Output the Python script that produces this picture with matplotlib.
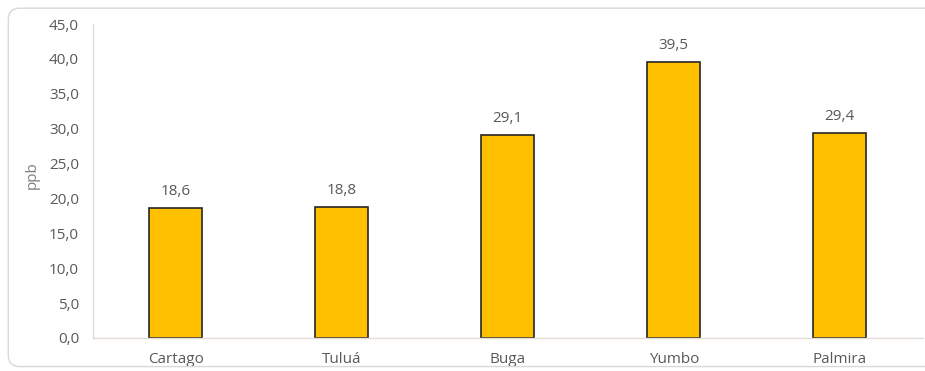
import matplotlib
matplotlib.use("Agg")
import matplotlib.pyplot as plt
from matplotlib.patches import FancyBboxPatch

cities = ["Cartago", "Tuluá", "Buga", "Yumbo", "Palmira"]
ppb = [18.6, 18.8, 29.1, 39.5, 29.4]
yticks = [0, 5, 10, 15, 20, 25, 30, 35, 40, 45]

plt.rcParams["font.family"] = ["Open Sans", "DejaVu Sans"]
text_color = "#595959"

fig = plt.figure(figsize=(9.25, 3.71), dpi=100)
fig.patch.set_facecolor("white")

# rounded chart-area frame
frame = FancyBboxPatch((0.009, 0.012), 1.2, 0.966,
                       boxstyle="round,pad=0,rounding_size=0.012",
                       transform=fig.transFigure, facecolor="none",
                       edgecolor="#d9d9d9", linewidth=1.0, mutation_aspect=2.5)
fig.patches.append(frame)

ax = fig.add_axes([0.1005, 0.089, 0.897, 0.846])
x = range(len(cities))
ax.bar(x, ppb, width=0.32, color="#FFC000", edgecolor="#262626", linewidth=1.2)

for xi, v in zip(x, ppb):
    ax.text(xi, v + 1.3, f"{v:.1f}".replace(".", ","), ha="center", va="bottom",
            fontsize=11, color=text_color)

ax.set_xlim(-0.5, len(cities) - 0.5)
ax.set_ylim(0, 45)
ax.set_yticks(yticks)
ax.set_yticklabels([f"{t:.1f}".replace(".", ",") for t in yticks])
ax.set_xticks(list(x))
ax.set_xticklabels(cities)
ax.tick_params(axis="both", length=0, labelsize=11, labelcolor=text_color)
ax.tick_params(axis="y", pad=10)
ax.tick_params(axis="x", pad=10)

for s in ["top", "right"]:
    ax.spines[s].set_visible(False)
for s in ["left", "bottom"]:
    ax.spines[s].set_color("#e3ddd5")
    ax.spines[s].set_linewidth(1.0)

ax.set_ylabel("ppb", fontsize=11, color="#7f7f7f")
ax.yaxis.set_label_coords(-0.064, 0.52)

fig.savefig("out.png", dpi=100, facecolor="white")
